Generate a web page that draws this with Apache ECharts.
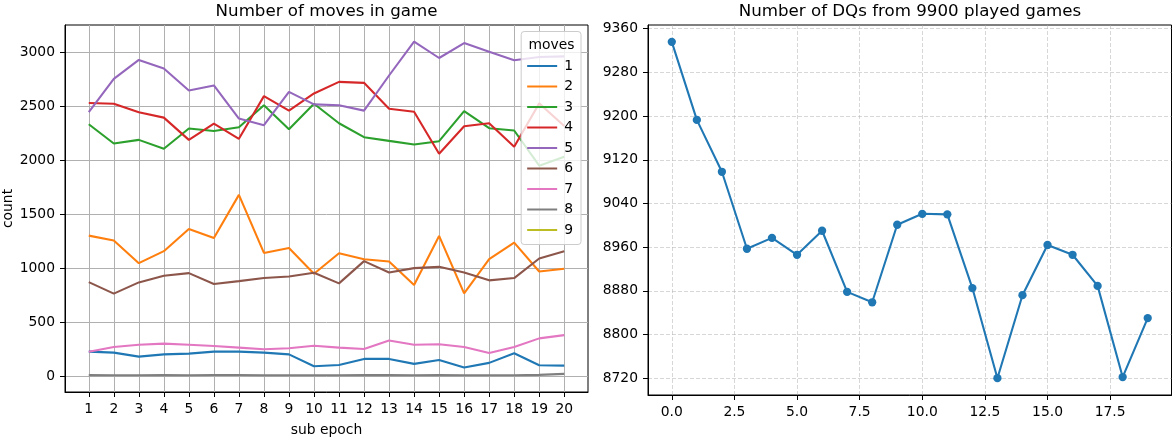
<!DOCTYPE html>
<html>
<head>
<meta charset="utf-8">
<script src="https://cdn.jsdelivr.net/npm/echarts@6/dist/echarts.min.js"></script>
<style>
html, body { margin: 0; padding: 0; background: #ffffff; }
#chart { width: 1176px; height: 442px; }
</style>
</head>
<body>
<div id="chart"></div>
<script>
// ---------- data ----------
const subEpochs = [1, 2, 3, 4, 5, 6, 7, 8, 9, 10, 11, 12, 13, 14, 15, 16, 17, 18, 19, 20];
const moveNames = ['1', '2', '3', '4', '5', '6', '7', '8', '9'];
const moves1 = [227, 218, 181, 202, 209, 227, 227, 218, 202, 92, 104, 160, 160, 114, 150, 80, 123, 212, 101, 98];
const moves2 = [1301, 1255, 1046, 1157, 1362, 1279, 1678, 1141, 1187, 948, 1138, 1083, 1062, 844, 1298, 767, 1083, 1236, 969, 994];
const moves3 = [2332, 2154, 2187, 2105, 2292, 2270, 2304, 2507, 2286, 2522, 2341, 2212, 2178, 2145, 2175, 2454, 2295, 2274, 1948, 2031];
const moves4 = [2528, 2522, 2442, 2393, 2187, 2338, 2197, 2592, 2458, 2617, 2724, 2715, 2476, 2448, 2059, 2313, 2341, 2123, 2525, 2316];
const moves5 = [2445, 2752, 2927, 2847, 2645, 2691, 2384, 2323, 2632, 2516, 2507, 2458, 2783, 3096, 2945, 3083, 3003, 2924, 2954, 2960];
const moves6 = [871, 764, 868, 930, 954, 853, 880, 908, 923, 957, 859, 1065, 960, 1000, 1012, 960, 887, 908, 1089, 1157];
const moves7 = [227, 270, 291, 301, 291, 279, 264, 249, 258, 282, 264, 252, 331, 291, 295, 270, 215, 270, 350, 380];
const moves8 = [10, 9, 9, 10, 8, 11, 11, 9, 8, 9, 9, 10, 10, 9, 11, 8, 9, 9, 12, 21];
const moves9 = [];
const leftXTicks = [1, 2, 3, 4, 5, 6, 7, 8, 9, 10, 11, 12, 13, 14, 15, 16, 17, 18, 19, 20];
const leftYTicks = [0, 500, 1000, 1500, 2000, 2500, 3000];

const dqIndex = [0, 1, 2, 3, 4, 5, 6, 7, 8, 9, 10, 11, 12, 13, 14, 15, 16, 17, 18, 19];
const dqCounts = [9336, 9193, 9098, 8957, 8977, 8946, 8990, 8878, 8859, 9001, 9021, 9020, 8885, 8720, 8872, 8964, 8946, 8889, 8722, 8830];
const rightXTicks = [0, 2.5, 5, 7.5, 10, 12.5, 15, 17.5];
const rightYTicks = [8720, 8800, 8880, 8960, 9040, 9120, 9200, 9280, 9360];

// ---------- styling ----------
const FONT = 'DejaVu Sans';
const TAB10 = ['#1f77b4', '#ff7f0e', '#2ca02c', '#d62728', '#9467bd', '#8c564b', '#e377c2', '#7f7f7f', '#bcbd22'];
const LW = 2.08;
const TICK_FS = 13.89;

function padRange(values, frac) {
  const lo = Math.min(...values), hi = Math.max(...values);
  const m = (hi - lo) * frac;
  return [lo - m, hi + m];
}

const allMoves = [moves1, moves2, moves3, moves4, moves5, moves6, moves7, moves8, moves9];
const leftXR = padRange(subEpochs, 0.05);
const leftYR = padRange([].concat(...allMoves), 0.05);
const rightXR = padRange(dqIndex, 0.05);
const rightYR = padRange(dqCounts, 0.05);

function axisCommon(ticks, fmt, gridColor, dashed) {
  return {
    type: 'value',
    axisLine: { show: true, onZero: false, lineStyle: { color: '#000', width: 1 } },
    axisTick: { show: true, inside: false, length: 5, customValues: ticks, lineStyle: { color: '#000', width: 1 } },
    axisLabel: { customValues: ticks, formatter: fmt, color: '#000', fontSize: TICK_FS, fontFamily: FONT, margin: 10 },
    splitLine: { show: true, lineStyle: { color: gridColor, width: 1, type: dashed ? [4, 2] : 'solid' } },
    minorTick: { show: false },
    splitArea: { show: false }
  };
}

const series = [];
allMoves.forEach((arr, i) => {
  series.push({
    type: 'line',
    name: moveNames[i],
    xAxisIndex: 0,
    yAxisIndex: 0,
    data: arr.map((v, j) => [subEpochs[j], v]),
    symbol: 'none',
    lineStyle: { width: LW, color: TAB10[i] },
    itemStyle: { color: TAB10[i] },
    z: 2 + i * 0.01,
    silent: true
  });
});
series.push({
  type: 'line',
  name: 'dq',
  xAxisIndex: 1,
  yAxisIndex: 1,
  data: dqCounts.map((v, j) => [dqIndex[j], v]),
  symbol: 'circle',
  symbolSize: 8.3,
  lineStyle: { width: LW, color: TAB10[0] },
  itemStyle: { color: TAB10[0] },
  silent: true
});

const option = {
  animation: false,
  backgroundColor: '#ffffff',
  textStyle: { fontFamily: FONT },
  grid: [
    { left: 65, top: 25, width: 523, height: 370, show: true, borderColor: '#000', borderWidth: 1, backgroundColor: 'transparent' },
    { left: 648, top: 25, width: 523.5, height: 370, show: true, borderColor: '#000', borderWidth: 1, backgroundColor: 'transparent' }
  ],
  xAxis: [
    Object.assign(axisCommon(leftXTicks, v => String(v), '#b0b0b0', false), {
      gridIndex: 0, min: leftXR[0], max: leftXR[1],
      name: 'sub epoch', nameLocation: 'middle', nameGap: 31,
      nameTextStyle: { fontSize: TICK_FS, color: '#000', fontFamily: FONT }
    }),
    Object.assign(axisCommon(rightXTicks, v => v.toFixed(1), 'rgba(176,176,176,0.5)', true), {
      gridIndex: 1, min: rightXR[0], max: rightXR[1]
    })
  ],
  yAxis: [
    Object.assign(axisCommon(leftYTicks, v => String(v), '#b0b0b0', false), {
      gridIndex: 0, min: leftYR[0], max: leftYR[1],
      name: 'count', nameLocation: 'middle', nameGap: 50,
      nameTextStyle: { fontSize: TICK_FS, color: '#000', fontFamily: FONT }
    }),
    Object.assign(axisCommon(rightYTicks, v => String(v), 'rgba(176,176,176,0.5)', true), {
      gridIndex: 1, min: rightYR[0], max: rightYR[1]
    })
  ],
  legend: {
    data: moveNames,
    orient: 'vertical',
    right: 1176 - 581,
    top: 31.5,
    icon: 'rect',
    itemWidth: 30,
    itemHeight: 2,
    itemGap: 5.5,
    padding: [27, 8, 7, 6],
    backgroundColor: 'rgba(255,255,255,0.8)',
    borderColor: '#cccccc',
    borderWidth: 1,
    borderRadius: 3,
    selectedMode: false,
    textStyle: { fontSize: TICK_FS, fontFamily: FONT, color: '#000', lineHeight: 15, padding: [0, 0, 0, 2] }
  },
  graphic: [
    { type: 'text', x: 326.5, y: 12, z: 100, silent: true,
      style: { text: 'Number of moves in game', fontSize: 16.67, fontFamily: FONT, fill: '#000', align: 'center', verticalAlign: 'middle' } },
    { type: 'text', x: 910, y: 12, z: 100, silent: true,
      style: { text: 'Number of DQs from 9900 played games', fontSize: 16.67, fontFamily: FONT, fill: '#000', align: 'center', verticalAlign: 'middle' } },
    { type: 'text', x: 551.5, y: 45, z: 100, silent: true,
      style: { text: 'moves', fontSize: TICK_FS, fontFamily: FONT, fill: '#000', align: 'center', verticalAlign: 'middle' } }
  ],
  series: series
};

const chart = echarts.init(document.getElementById('chart'), null, { renderer: 'canvas' });
chart.setOption(option);
</script>
</body>
</html>
